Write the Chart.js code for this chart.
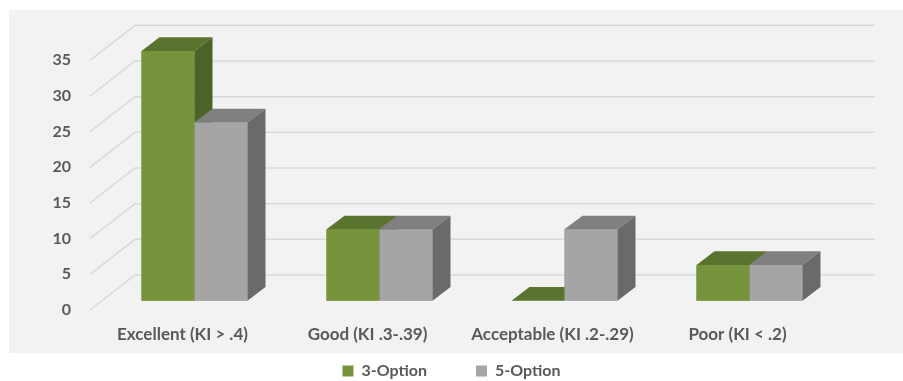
<!DOCTYPE html>
<html>
<head>
<meta charset="utf-8">
<script src="https://cdn.jsdelivr.net/npm/chart.js@4.4.1/dist/chart.umd.min.js"></script>
<style>
  html, body { margin: 0; padding: 0; background: #FFFFFF; }
  #wrap { width: 903px; height: 381px; position: relative; }
</style>
</head>
<body>
<div id="wrap"><canvas id="c" width="903" height="381"></canvas></div>
<script>
// ---- data ----
const categories = ['Excellent (KI > .4)', 'Good (KI .3-.39)', 'Acceptable (KI .2-.29)', 'Poor (KI < .2)'];
const threeOption = [35, 10, 0, 5];
const fiveOption = [25, 10, 10, 5];
const yTickStep = 5;
const yMax = 35;

// ---- styles ----
const TEXT = '#595959';
const FONT = { family: 'Lato', weight: 'bold', size: 16 };
const CAT_FONT = { family: 'Lato', weight: 'bold', size: 17 };
const faces = [
  { front: '#77933C', top: '#5A732E', side: '#4D6226' },
  { front: '#A5A5A5', top: '#7F7F7F', side: '#6A6A6A' }
];
// 3D projection offsets (pixels)
const BAR_DEPTH = { dx: 18, dy: -13.7 };
const FRONT = { dx: -12, dy: 9.3 };
const WALL = { dx: 33, dy: -25.7 };

const depthPlugin = {
  id: 'depth3d',
  beforeDraw(chart) {
    const { ctx, width, height } = chart;
    ctx.save();
    ctx.fillStyle = '#FFFFFF';
    ctx.fillRect(0, 0, width, height);
    ctx.fillStyle = '#F2F2F2';
    ctx.fillRect(9, 10, width - 9, 343);
    ctx.restore();
  },
  beforeDatasetsDraw(chart) {
    const ys = chart.scales.y, a = chart.chartArea, ctx = chart.ctx;
    ctx.save();
    ctx.strokeStyle = '#D9D9D9';
    ctx.lineWidth = 1.5;
    ys.ticks.forEach(t => {
      const py = ys.getPixelForValue(t.value);
      ctx.beginPath();
      ctx.moveTo(a.left + FRONT.dx, py + FRONT.dy);
      ctx.lineTo(a.left + WALL.dx, py + WALL.dy);
      ctx.lineTo(a.right + WALL.dx, py + WALL.dy);
      ctx.stroke();
    });
    ctx.restore();
  },
  afterDatasetsDraw(chart) {
    const ctx = chart.ctx;
    const n = chart.data.labels.length;
    const poly = (pts, color) => {
      ctx.beginPath();
      ctx.moveTo(pts[0][0], pts[0][1]);
      for (let k = 1; k < pts.length; k++) ctx.lineTo(pts[k][0], pts[k][1]);
      ctx.closePath();
      ctx.fillStyle = color;
      ctx.fill();
    };
    ctx.save();
    for (let i = 0; i < n; i++) {
      chart.data.datasets.forEach((ds, di) => {
        const el = chart.getDatasetMeta(di).data[i];
        if (!el) return;
        const p = el.getProps(['x', 'y', 'base', 'width'], true);
        const l = p.x - p.width / 2, r = p.x + p.width / 2;
        const f = faces[di];
        const dx = BAR_DEPTH.dx, dy = BAR_DEPTH.dy;
        poly([[l, p.y], [r, p.y], [r, p.base], [l, p.base]], f.front);
        poly([[l, p.y], [r, p.y], [r + dx, p.y + dy], [l + dx, p.y + dy]], f.top);
        poly([[r, p.y], [r + dx, p.y + dy], [r + dx, p.base + dy], [r, p.base]], f.side);
      });
    }
    ctx.restore();
  }
};

new Chart(document.getElementById('c'), {
  type: 'bar',
  data: {
    labels: categories,
    datasets: [
      { label: '3-Option', data: threeOption, backgroundColor: faces[0].front, borderWidth: 0 },
      { label: '5-Option', data: fiveOption, backgroundColor: faces[1].front, borderWidth: 0 }
    ]
  },
  options: {
    responsive: false,
    animation: false,
    events: [],
    layout: { padding: { left: 0, right: 0, top: 51, bottom: 0 } },
    datasets: { bar: { categoryPercentage: 0.573, barPercentage: 1.0 } },
    scales: {
      x: {
        grid: { display: false, drawTicks: false },
        border: { display: false },
        ticks: { color: TEXT, font: CAT_FONT, mirror: true, padding: -44.5, labelOffset: FRONT.dx, maxRotation: 0, autoSkip: false },
        afterFit(s) { s.height = 13.3; }
      },
      y: {
        min: 0, max: yMax,
        grid: { display: false, drawTicks: false },
        border: { display: false },
        ticks: { stepSize: yTickStep, color: TEXT, font: FONT, padding: 31, labelOffset: FRONT.dy },
        afterFit(s) { s.width = 102; }
      },
      yRight: {
        position: 'right',
        min: 0, max: yMax,
        grid: { display: false, drawTicks: false },
        border: { display: false },
        ticks: { display: false },
        afterFit(s) { s.width = 61; }
      }
    },
    plugins: {
      tooltip: { enabled: false },
      legend: {
        position: 'bottom',
        maxHeight: 67,
        labels: { color: TEXT, font: FONT, boxWidth: 11, boxHeight: 11, padding: 49 }
      }
    }
  },
  plugins: [depthPlugin]
});
</script>
</body>
</html>
